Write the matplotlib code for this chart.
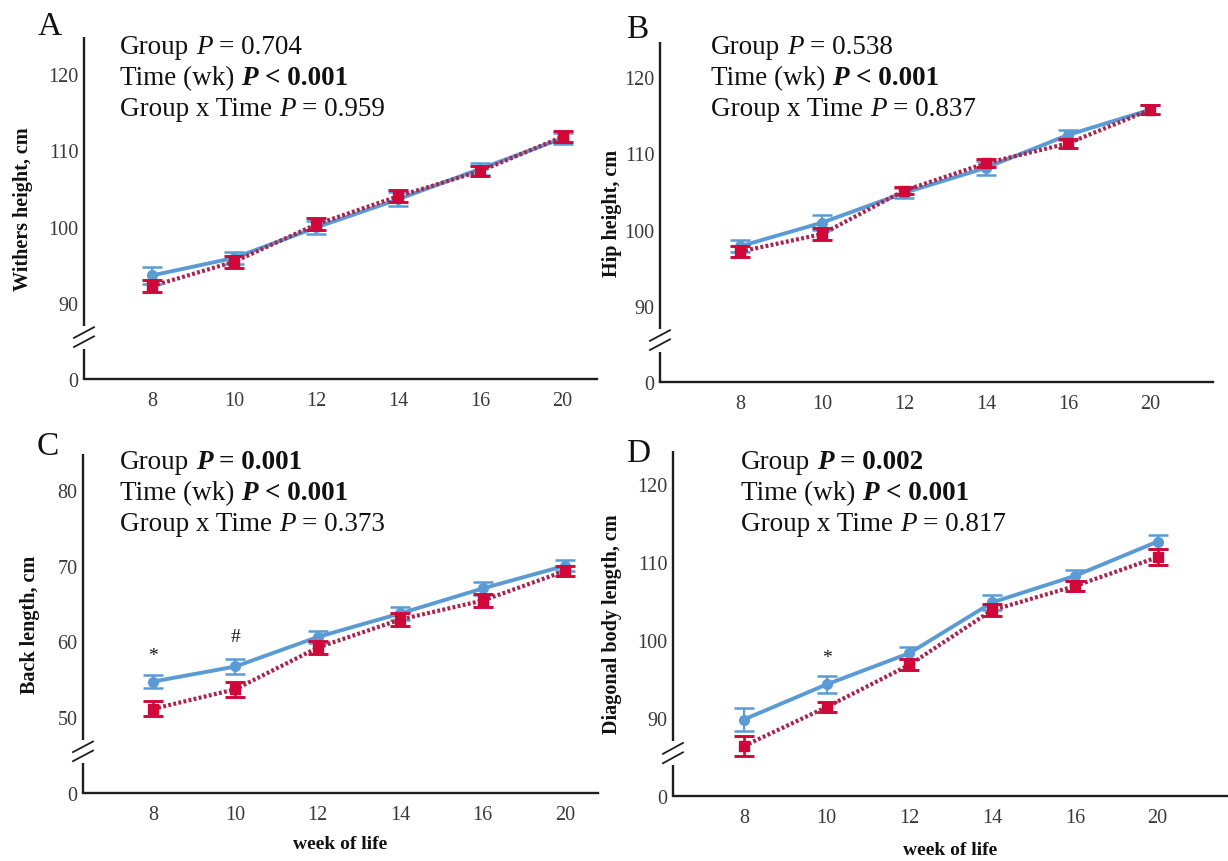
import numpy as np
import matplotlib
matplotlib.use("Agg")
import matplotlib.pyplot as plt

plt.rcParams['font.family'] = ['Liberation Serif', 'DejaVu Serif']

# ---- data -------------------------------------------------------------
weeks = ['8', '10', '12', '14', '16', '20']

withers_blue = [93.6, 95.9, 99.9, 103.6, 107.6, 111.6]
withers_blue_err = [1.1, 0.8, 0.8, 0.9, 0.8, 0.7]
withers_red = [92.2, 95.4, 100.3, 104.0, 107.3, 111.8]
withers_red_err = [0.8, 0.8, 0.8, 0.8, 0.7, 0.7]

hip_blue = [97.8, 100.9, 104.8, 108.1, 112.4, 115.7]
hip_blue_err = [0.8, 1.0, 0.6, 0.9, 0.7, 0.6]
hip_red = [97.1, 99.4, 105.1, 108.7, 111.3, 115.7]
hip_red_err = [0.7, 0.8, 0.5, 0.5, 0.6, 0.6]

back_blue = [54.7, 56.7, 60.6, 63.7, 67.0, 70.0]
back_blue_err = [0.9, 1.0, 0.8, 0.8, 0.8, 0.7]
back_red = [51.1, 53.7, 59.2, 62.9, 65.4, 69.3]
back_red_err = [1.0, 1.0, 0.9, 0.8, 0.9, 0.6]

diag_blue = [89.8, 94.3, 98.3, 104.8, 108.2, 112.6]
diag_blue_err = [1.5, 1.1, 0.8, 1.0, 0.7, 0.9]
diag_red = [86.4, 91.4, 96.8, 103.8, 106.9, 110.6]
diag_red_err = [1.3, 0.7, 0.7, 0.8, 0.6, 1.05]

ticks_height = [0, 90, 100, 110, 120]
ticks_back = [0, 50, 60, 70, 80]

stats_withers = ['0.704', '0.959']
stats_hip = ['0.538', '0.837']
stats_back = ['0.001', '0.373']
stats_diag = ['0.002', '0.817']

# ---- style ------------------------------------------------------------
BLUE = '#5B9BD5'
RED = '#D0083A'
RED_LINE = '#A8254F'
AXIS = '#1E1E1E'
TICKC = '#3A3A3A'

W, H = 1228, 862
fig = plt.figure(figsize=(W / 100, H / 100), dpi=100)


def axes_px(left, right, top, bottom):
    return fig.add_axes([left / W, 1 - bottom / H, (right - left) / W, (bottom - top) / H])


def broken_scale(first):
    """Linear above the break, zero squeezed to one tick-step below the first tick."""
    lo = first - 10.0
    b = first - 8.0

    def fwd(v):
        v = np.asarray(v, dtype=float)
        return np.where(v >= b, v, lo + v * (b - lo) / b)

    def inv(t):
        t = np.asarray(t, dtype=float)
        return np.where(t >= b, t, (t - lo) * b / (b - lo))

    return fwd, inv


def draw_panel(ax, blue, blue_err, red, red_err, ticks, ytop, xlim, ylabel,
               ylab_off, xlabel=None, xlab_off=None):
    first = ticks[1]
    x = np.arange(len(weeks))
    ax.set_yscale('function', functions=broken_scale(first))

    ax.errorbar(x, blue, yerr=blue_err, color=BLUE, lw=2.8, marker='o', ms=7,
                capsize=7, capthick=1.8, elinewidth=1.5, zorder=3)
    ax.errorbar(x, red, yerr=red_err, fmt='none', ecolor=RED, capsize=7,
                capthick=2.1, elinewidth=1.9, zorder=4)
    ax.plot(x, red, color=RED_LINE, lw=3.0, ls=(0, (0.7, 0.55)), zorder=4)
    ax.plot(x, red, ls='none', marker='s', ms=7, color=RED, zorder=5)

    ax.set_xlim(*xlim)
    ax.set_ylim(0, ytop)
    ax.set_yticks(ticks)
    ax.set_yticklabels([str(t) for t in ticks])
    ax.set_xticks(x)
    ax.set_xticklabels(weeks)
    ax.tick_params(length=0, labelsize=14.5, labelcolor=TICKC)
    ax.tick_params(axis='y', pad=4)
    ax.tick_params(axis='x', pad=9)

    for s in ('top', 'right', 'left'):
        ax.spines[s].set_visible(False)
    ax.spines['bottom'].set_color(AXIS)
    ax.spines['bottom'].set_linewidth(1.7)

    # left axis line with a gap and a double slash
    ytr = ax.get_yaxis_transform()
    ax.plot([0, 0], [0, first - 6.0], color=AXIS, lw=1.7, transform=ytr,
            clip_on=False, solid_capstyle='butt')
    ax.plot([0, 0], [first - 3.0, ytop], color=AXIS, lw=1.7, transform=ytr,
            clip_on=False, solid_capstyle='butt')
    wpx = ax.get_position().width * W
    dx = 10.0 / wpx
    for y0 in (first - 4.6, first - 5.8):
        ax.plot([-dx, dx], [y0, y0 + 1.4], color=AXIS, lw=1.3, transform=ytr,
                clip_on=False)

    ax.set_ylabel(ylabel, fontsize=14.5, fontweight='bold', color='#111111')
    ax.yaxis.label.set_va('center')
    ax.yaxis.set_label_coords(-ylab_off / wpx, 0.5)
    if xlabel:
        hpx = ax.get_position().height * H
        ax.set_xlabel(xlabel, fontsize=14, fontweight='bold', color='#111111')
        ax.xaxis.label.set_va('center')
        ax.xaxis.set_label_coords(0.5, -xlab_off / hpx)


def mark(ax, i, yval, err, symbol, off=13):
    ax.annotate(symbol, xy=(i, yval + err), xytext=(0, off), textcoords='offset points',
                ha='center', va='center', fontsize=14, color='#111111')


renderer = fig.canvas.get_renderer()


def rich_line(x_px, y_px, runs, size=19.5):
    gap = 0.25 * size * 100 / 72
    x = x_px
    for i, (s, style, weight) in enumerate(runs):
        if i > 0:
            x += gap
        t = fig.text(x / W, 1 - y_px / H, s, fontsize=size, fontstyle=style,
                     fontweight=weight, va='baseline', ha='left', color='#111111')
        x += t.get_window_extent(renderer).width


def stats_block(x_px, y_px, group_p, inter_p, group_sig):
    if group_sig:
        rich_line(x_px, y_px, [('Group', 'normal', 'normal'), ('P', 'italic', 'bold'),
                               ('= ' + group_p, 'normal', 'bold')])
    else:
        rich_line(x_px, y_px, [('Group', 'normal', 'normal'), ('P', 'italic', 'normal'),
                               ('= ' + group_p, 'normal', 'normal')])
    rich_line(x_px, y_px + 31, [('Time (wk)', 'normal', 'normal'), ('P', 'italic', 'bold'),
                                ('< 0.001', 'normal', 'bold')])
    rich_line(x_px, y_px + 62, [('Group x Time', 'normal', 'normal'), ('P', 'italic', 'normal'),
                                ('= ' + inter_p, 'normal', 'normal')])


# ---- panels -----------------------------------------------------------
axA = axes_px(84, 597, 38, 380)
draw_panel(axA, withers_blue, withers_blue_err, withers_red, withers_red_err,
           ticks_height, 124.9, (-0.83, 5.42), 'Withers height, cm', 61)

axB = axes_px(660, 1213, 43, 383)
draw_panel(axB, hip_blue, hip_blue_err, hip_red, hip_red_err,
           ticks_height, 124.6, (-0.976, 5.77), 'Hip height, cm', 48)

axC = axes_px(83, 598, 455, 794)
draw_panel(axC, back_blue, back_blue_err, back_red, back_red_err,
           ticks_back, 84.75, (-0.85, 5.40), 'Back length, cm', 53,
           'week of life', 51)
mark(axC, 0, back_blue[0], back_blue_err[0], '*', 14)
mark(axC, 1, back_blue[1], back_blue_err[1], '#', 16)

axD = axes_px(673, 1228, 452, 797)
draw_panel(axD, diag_blue, diag_blue_err, diag_red, diag_red_err,
           ticks_height, 124.2, (-0.857, 5.85), 'Diagonal body length, cm', 61,
           'week of life', 54)
mark(axD, 1, diag_blue[1], diag_blue_err[1], '*', 13)

stats_block(120, 54, stats_withers[0], stats_withers[1], False)
stats_block(711, 54, stats_hip[0], stats_hip[1], False)
stats_block(120, 469, stats_back[0], stats_back[1], True)
stats_block(741, 469, stats_diag[0], stats_diag[1], True)

for letter, lx, ly in (('A', 38, 35), ('B', 626, 38), ('C', 37, 455), ('D', 626, 462)):
    fig.text(lx / W, 1 - ly / H, letter, fontsize=24, va='baseline', ha='left',
             color='#111111')

fig.savefig('out.png', dpi=100)
